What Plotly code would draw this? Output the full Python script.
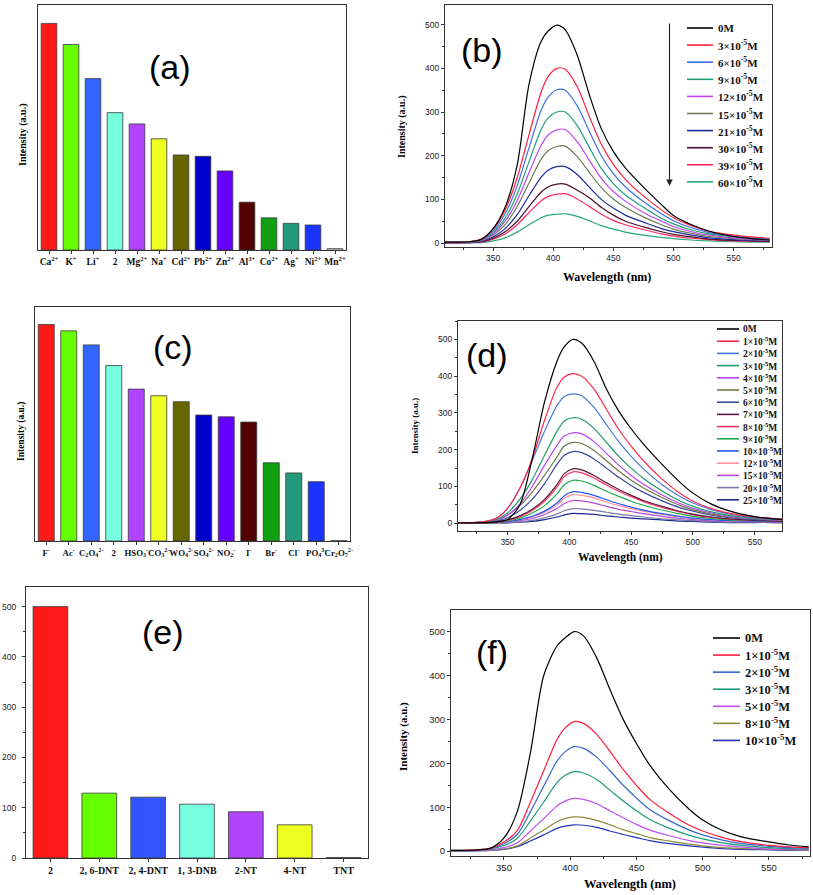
import plotly.graph_objects as go

W, H = 813, 895

# ------------------------------------------------------------------ data
# (a) metal ions
metal_ions = ["Ca<sup>2+</sup>", "K<sup>+</sup>", "Li<sup>+</sup>", "2", "Mg<sup>2+</sup>",
              "Na<sup>+</sup>", "Cd<sup>2+</sup>", "Pb<sup>2+</sup>", "Zn<sup>2+</sup>",
              "Al<sup>3+</sup>", "Co<sup>2+</sup>", "Ag<sup>+</sup>", "Ni<sup>2+</sup>", "Mn<sup>2+</sup>"]
metal_intensity = [825, 748, 624, 500, 459, 405, 346, 341, 288, 174, 117, 97, 91, 5]
metal_colors = ["#ff1a1a", "#66ff00", "#3366ff", "#77ffe0", "#b044ff", "#eeff22", "#666600",
                "#0000cc", "#6600ff", "#550000", "#10a010", "#22997a", "#1a33ff", "#ffffff"]

# (c) anions
anions = ["F<sup>-</sup>", "Ac<sup>-</sup>", "C<sub>2</sub>O<sub>4</sub><sup>2-</sup>", "2",
          "HSO<sub>3</sub><sup>-</sup>", "CO<sub>3</sub><sup>2-</sup>", "WO<sub>4</sub><sup>2-</sup>",
          "SO<sub>4</sub><sup>2-</sup>", "NO<sub>2</sub><sup>-</sup>", "I<sup>-</sup>", "Br<sup>-</sup>",
          "Cl<sup>-</sup>", "PO<sub>4</sub><sup>3-</sup>", "Cr<sub>2</sub>O<sub>7</sub><sup>2-</sup>"]
anion_intensity = [617, 599, 559, 500, 433, 414, 397, 359, 354, 339, 223, 194, 169, 1]
anion_colors = ["#ff1a1a", "#66ff00", "#3366ff", "#77ffe0", "#b044ff", "#eeff22", "#666600",
                "#0000cc", "#6600ff", "#550000", "#10a010", "#22997a", "#1a33ff", "#ffffff"]

# (e) nitro-aromatics
explosives = ["2", "2, 6-DNT", "2, 4-DNT", "1, 3-DNB", "2-NT", "4-NT", "TNT"]
explosive_intensity = [500, 129, 121, 107, 92, 66, 1]
explosive_colors = ["#ff1a1a", "#66ff00", "#3355ff", "#77ffe0", "#b044ff", "#eeff22", "#ffffff"]

# wavelength grid (nm) for the spectra
wavelength = [310, 330, 340, 350, 360, 370, 380, 390, 396, 403, 410, 420,
              430, 440, 450, 460, 475, 490, 500, 515, 530, 550, 565, 580]

# (b) titration spectra
b_conc = [0, 3, 6, 9, 12, 15, 21, 30, 39, 60]
b_spectra = [
    [2, 3, 8, 33, 82, 178, 365, 462, 486, 499, 488, 430, 340, 262, 210, 172, 128, 88, 63, 42, 27, 15, 10, 7],
    [2, 3, 9, 32, 76, 149, 249, 346, 382, 400, 398, 358, 290, 226, 180, 146, 108, 76, 58, 40, 27, 18, 14, 11],
    [2, 3, 8, 28, 67, 131, 219, 304, 335, 351, 350, 314, 256, 200, 159, 129, 95, 67, 51, 35, 24, 16, 12, 10],
    [2, 2, 7, 24, 57, 112, 187, 260, 287, 300, 300, 269, 219, 171, 136, 110, 82, 57, 44, 30, 21, 14, 11, 8],
    [1, 2, 6, 21, 50, 97, 162, 224, 248, 259, 260, 232, 190, 148, 118, 96, 70, 50, 38, 26, 18, 12, 9, 7],
    [1, 2, 5, 18, 42, 83, 138, 192, 212, 221, 222, 198, 162, 127, 101, 82, 60, 42, 32, 22, 15, 10, 8, 6],
    [1, 1, 4, 14, 33, 65, 109, 151, 167, 175, 175, 157, 128, 100, 80, 64, 48, 33, 26, 18, 12, 8, 6, 5],
    [1, 1, 3, 11, 26, 50, 84, 117, 129, 135, 135, 121, 104, 82, 64, 50, 37, 26, 20, 14, 9, 6, 5, 4],
    [1, 1, 2, 9, 21, 42, 70, 97, 107, 112, 113, 101, 84, 66, 52, 42, 31, 21, 16, 11, 8, 5, 4, 3],
    [0, 1, 1, 5, 12, 25, 42, 58, 64, 66, 67, 61, 51, 40, 32, 25, 18, 13, 10, 7, 5, 3, 2, 2],
]
b_colors = ["#000000", "#ff1f3d", "#3d6fe0", "#1f9e78", "#c246f0", "#6e7b55",
            "#1c2a9e", "#4d0f2e", "#ff2d63", "#2aa878"]

# (d) titration spectra
d_conc = [0, 1, 2, 3, 4, 5, 6, 7, 8, 9, 10, 12, 15, 20, 25]
d_spectra = [
    [1, 2, 4, 10, 50, 175, 330, 440, 480, 500, 490, 440, 365, 305, 257, 215, 160, 110, 82, 52, 33, 18, 12, 9],
    [1, 4, 12, 40, 95, 175, 280, 370, 398, 407, 400, 365, 310, 255, 210, 170, 120, 80, 60, 40, 27, 17, 13, 10],
    [1, 4, 12, 40, 95, 170, 250, 320, 345, 352, 347, 315, 268, 222, 182, 148, 105, 72, 55, 37, 25, 16, 12, 10],
    [1, 3, 9, 28, 65, 118, 185, 250, 278, 287, 283, 258, 220, 182, 150, 122, 88, 60, 46, 31, 21, 14, 11, 9],
    [1, 3, 8, 22, 52, 100, 158, 212, 237, 246, 243, 222, 190, 158, 130, 106, 77, 53, 41, 28, 19, 13, 10, 8],
    [1, 2, 7, 22, 48, 85, 130, 180, 210, 220, 217, 198, 170, 142, 117, 96, 70, 48, 37, 25, 17, 12, 9, 7],
    [1, 2, 5, 15, 35, 65, 108, 160, 185, 195, 192, 175, 150, 125, 103, 84, 61, 42, 33, 22, 15, 10, 8, 6],
    [1, 1, 3, 9, 20, 38, 65, 105, 135, 148, 145, 130, 110, 92, 76, 62, 46, 32, 25, 17, 12, 8, 6, 5],
    [1, 1, 3, 8, 18, 35, 60, 98, 127, 140, 137, 123, 104, 87, 72, 59, 43, 30, 23, 16, 11, 8, 6, 5],
    [1, 1, 2, 6, 14, 28, 48, 80, 105, 117, 115, 103, 87, 73, 60, 49, 36, 25, 19, 13, 9, 7, 5, 4],
    [0, 1, 2, 4, 10, 19, 33, 55, 75, 86, 84, 76, 64, 53, 44, 36, 26, 18, 14, 10, 7, 5, 4, 3],
    [0, 1, 2, 4, 9, 17, 30, 50, 68, 78, 76, 69, 58, 48, 40, 33, 24, 17, 13, 9, 6, 5, 4, 3],
    [0, 1, 1, 3, 7, 13, 24, 40, 54, 62, 61, 55, 46, 38, 32, 26, 19, 13, 10, 7, 5, 4, 3, 2],
    [0, 0, 1, 2, 4, 8, 15, 25, 34, 40, 39, 35, 30, 25, 21, 17, 12, 9, 7, 5, 3, 3, 2, 2],
    [0, 0, 1, 1, 3, 5, 10, 17, 23, 27, 26, 24, 20, 17, 14, 12, 9, 6, 5, 3, 2, 2, 2, 1],
]
d_colors = ["#000000", "#ff2a4a", "#4a78dd", "#1f9a6a", "#b844ee", "#6f7a4a", "#3c4c9c",
            "#5a1a3c", "#ff3366", "#1fa84a", "#2255ee", "#ff8fa0", "#b04ad0", "#7a7aa8", "#1c2a88"]

# (f) titration spectra
f_conc = [0, 1, 2, 3, 5, 8, 10]
f_spectra = [
    [2, 3, 7, 30, 90, 225, 400, 467, 485, 500, 490, 440, 368, 300, 245, 196, 140, 95, 71, 47, 32, 21, 14, 10],
    [2, 3, 7, 21, 47, 112, 183, 254, 280, 295, 291, 266, 227, 186, 150, 118, 86, 59, 46, 31, 21, 13, 10, 8],
    [1, 2, 6, 17, 38, 90, 148, 205, 226, 238, 234, 214, 183, 150, 121, 95, 69, 48, 37, 25, 17, 11, 8, 7],
    [1, 2, 5, 13, 29, 69, 112, 156, 172, 181, 178, 163, 139, 114, 92, 72, 52, 36, 28, 19, 13, 8, 6, 5],
    [1, 1, 3, 8, 19, 46, 74, 103, 114, 120, 118, 108, 92, 76, 61, 48, 35, 24, 19, 13, 9, 5, 4, 3],
    [0, 1, 2, 5, 12, 30, 48, 67, 74, 78, 77, 70, 60, 49, 40, 31, 23, 16, 12, 8, 6, 4, 3, 2],
    [0, 1, 2, 4, 10, 23, 37, 52, 57, 60, 59, 54, 46, 38, 31, 24, 17, 12, 9, 6, 4, 3, 2, 2],
]
f_colors = ["#000000", "#ff1f3d", "#3a66cc", "#1e9a7a", "#c050f0", "#8a8a3a", "#2233bb"]

for group in (b_spectra, d_spectra, f_spectra):
    for s in group:
        assert len(s) == len(wavelength)


def conc_label(c):
    return "0M" if c == 0 else f"{c}×10<sup>-5</sup>M"


# ------------------------------------------------------------------ helpers
def px(x):
    return x / W


def py(y):
    return 1 - y / H


SERIF = "Liberation Serif"
SANS = "Liberation Sans"
LINE = "#333333"

fig = go.Figure()

# bars
for xa, ya, cats, vals, cols in (("x", "y", metal_ions, metal_intensity, metal_colors),
                                 ("x3", "y3", anions, anion_intensity, anion_colors),
                                 ("x5", "y5", explosives, explosive_intensity, explosive_colors)):
    fig.add_trace(go.Bar(x=cats, y=vals, xaxis=xa, yaxis=ya, showlegend=False,
                         marker=dict(color=cols, line=dict(color="#3a3a3a", width=0.8))))

# spectra
for xa, ya, spectra, cols in (("x2", "y2", b_spectra, b_colors),
                              ("x4", "y4", d_spectra, d_colors),
                              ("x6", "y6", f_spectra, f_colors)):
    for s, c in reversed(list(zip(spectra, cols))):
        fig.add_trace(go.Scatter(x=wavelength, y=s, xaxis=xa, yaxis=ya, mode="lines",
                                 line=dict(color=c, width=1.2, shape="spline", smoothing=0.8),
                                 showlegend=False))

# ------------------------------------------------------------------ axes
def dom_x(a, b):
    return [px(a), px(b)]


def dom_y(top, bottom):
    return [py(bottom), py(top)]


base = dict(showline=True, mirror=True, linecolor=LINE, linewidth=1, showgrid=False,
            zeroline=False, automargin=False)

cat_x = dict(base, type="category", tickangle=0, ticks="outside", ticklen=3, tickcolor=LINE,
             tickfont=dict(family=SERIF, size=9.5, color="#111", weight="bold"))
hidden_y = dict(base, showticklabels=False, ticks="")

num_font = dict(family=SANS, size=8.5, color="#222")
wl_x = dict(base, range=[310, 582], dtick=50, ticks="outside", ticklen=3, tickcolor=LINE,
            tickfont=num_font, minor=dict(dtick=25, ticks="outside", ticklen=2, tickcolor=LINE))
int_y = dict(base, dtick=100, ticks="outside", ticklen=3, tickcolor=LINE, tickfont=num_font,
             minor=dict(dtick=50, ticks="outside", ticklen=2, tickcolor=LINE))

layout_axes = dict(
    xaxis=dict(cat_x, domain=dom_x(38, 346), anchor="y", range=[-0.5, 13.5]),
    yaxis=dict(hidden_y, domain=dom_y(5, 250), anchor="x", range=[0, 892]),
    xaxis2=dict(wl_x, domain=dom_x(445, 772), anchor="y2"),
    yaxis2=dict(int_y, domain=dom_y(5, 247), anchor="x2", range=[-9, 545]),
    xaxis3=dict(cat_x, domain=dom_x(35, 350), anchor="y3", range=[-0.5, 13.5],
                tickfont=dict(family=SERIF, size=8.8, color="#111", weight="bold")),
    yaxis3=dict(hidden_y, domain=dom_y(307, 541), anchor="x3", range=[0, 667]),
    xaxis4=dict(wl_x, domain=dom_x(458, 782), anchor="y4", range=[310, 572]),
    yaxis4=dict(int_y, domain=dom_y(321, 531), anchor="x4", range=[-21, 550]),
    xaxis5=dict(cat_x, domain=dom_x(26, 368), anchor="y5", range=[-0.5, 6.5],
                tickfont=dict(family=SERIF, size=10, color="#111", weight="bold")),
    yaxis5=dict(int_y, domain=dom_y(587, 858), anchor="x5", range=[0, 539],
                ticklabelstandoff=4),
    xaxis6=dict(wl_x, domain=dom_x(451, 810), anchor="y6", range=[310, 581],
                tickfont=dict(family=SANS, size=9.5, color="#222")),
    yaxis6=dict(int_y, domain=dom_y(610, 856), anchor="x6", range=[-11, 549],
                tickfont=dict(family=SANS, size=9.5, color="#222")),
)

# ------------------------------------------------------------------ annotations
ann = []
shapes = []


def text(x, y, s, size, family=SANS, bold=False, angle=0, xanchor="center", color="#000"):
    ann.append(dict(x=px(x), y=py(y), xref="paper", yref="paper", text=s, showarrow=False,
                    xanchor=xanchor, yanchor="middle", textangle=angle,
                    font=dict(family=family, size=size, color=color,
                              weight="bold" if bold else "normal")))


# panel letters
for lab, x, y in (("(a)", 170, 67), ("(b)", 482, 50), ("(c)", 173, 347),
                  ("(d)", 487, 355), ("(e)", 163, 632), ("(f)", 492, 652)):
    text(x, y, lab, 34)

# axis titles
for x, y, size in ((23, 135, 10), (402, 127, 10), (22, 432, 9.5), (415, 426, 9), (403, 737, 11)):
    text(x, y, "Intensity (a.u.)", size, family=SERIF, bold=True, angle=-90)
for x, y, size in ((607, 277, 12), (620, 557, 11.5), (630, 884, 12.5)):
    text(x, y, "Wavelength (nm)", size, family=SERIF, bold=True)

# legends drawn as line samples + labels
for concs, cols, x0, x1, xt, y0, dy, size in (
        (b_conc, b_colors, 687, 713, 716, 28, 17.1, 11),
        (d_conc, d_colors, 717, 739, 741, 329, 12.2, 9.5),
        (f_conc, f_colors, 713, 740, 743, 638, 17.07, 12.5)):
    for i, (c, col) in enumerate(zip(concs, cols)):
        y = y0 + i * dy
        shapes.append(dict(type="line", xref="paper", yref="paper", x0=px(x0), x1=px(x1),
                           y0=py(y), y1=py(y), line=dict(color=col, width=1.6)))
        text(xt, y, conc_label(c), size, family=SERIF, bold=True, xanchor="left", color="#111")

# arrow in (b)
ann.append(dict(x=px(669.5), y=py(186), xref="paper", yref="paper", ax=0, ay=-164,
                axref="pixel", ayref="pixel", text="", showarrow=True, arrowhead=2,
                arrowsize=1.2, arrowwidth=1.1, arrowcolor="#222"))

fig.update_layout(
    width=W, height=H, autosize=False, template="none",
    margin=dict(l=0, r=0, t=0, b=0),
    paper_bgcolor="white", plot_bgcolor="white",
    font=dict(family=SANS, color="#000"),
    bargap=0.29, showlegend=False,
    annotations=ann, shapes=shapes,
    **layout_axes,
)

fig.write_html("out.html", config={"displayModeBar": False},
               post_script="document.body.style.margin='0';document.body.style.overflow='hidden';")
